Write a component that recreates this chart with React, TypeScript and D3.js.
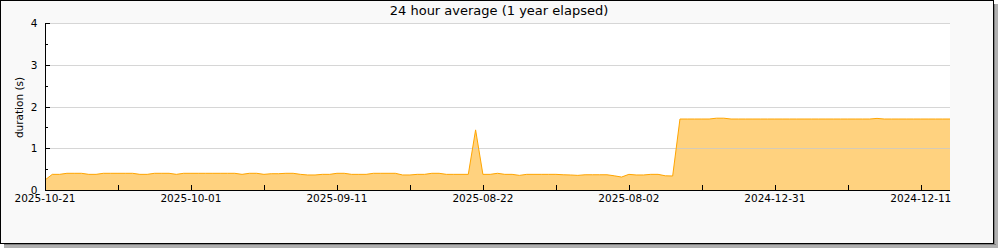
import React from "react";
import * as d3 from "d3";

const title = "24 hour average (1 year elapsed)";
const yLabel = "duration (s)";
const xTickIndex = [0, 20, 40, 60, 80, 100, 120];
const xTickLabels = ["2025-10-21", "2025-10-01", "2025-09-11", "2025-08-22", "2025-08-02", "2024-12-31", "2024-12-11"];
const xMinorIndex = [10, 30, 50, 70, 90, 110];
const yTicks = [0, 1, 2, 3, 4];
const yMinor = [0.5, 1.5, 2.5, 3.5];

const durations = [
  0.24, 0.375, 0.375, 0.4, 0.4, 0.4, 0.375, 0.375, 0.4, 0.4,
  0.4, 0.4, 0.4, 0.375, 0.375, 0.4, 0.4, 0.4, 0.375, 0.4,
  0.4, 0.4, 0.4, 0.4, 0.4, 0.4, 0.4, 0.375, 0.4, 0.4,
  0.375, 0.39, 0.39, 0.4, 0.4, 0.375, 0.36, 0.36, 0.375, 0.375,
  0.4, 0.4, 0.375, 0.375, 0.375, 0.4, 0.4, 0.4, 0.4, 0.36,
  0.36, 0.375, 0.375, 0.4, 0.4, 0.375, 0.375, 0.375, 0.375, 1.44,
  0.375, 0.375, 0.4, 0.375, 0.375, 0.35, 0.375, 0.375, 0.375, 0.375,
  0.375, 0.365, 0.36, 0.35, 0.365, 0.365, 0.365, 0.365, 0.34, 0.31,
  0.375, 0.36, 0.36, 0.375, 0.375, 0.34, 0.335, 1.7, 1.7, 1.7,
  1.7, 1.7, 1.72, 1.72, 1.7, 1.7, 1.7, 1.7, 1.7, 1.7,
  1.7, 1.7, 1.7, 1.7, 1.7, 1.7, 1.7, 1.7, 1.7, 1.7,
  1.7, 1.7, 1.7, 1.7, 1.715, 1.7, 1.7, 1.7, 1.7, 1.7,
  1.7, 1.7, 1.7, 1.7, 1.7,
];

export default function App() {
  const W = 1000, H = 250;
  const left = 45, right = 950, top = 23, bottom = 190;
  const x = d3.scaleLinear().domain([0, durations.length - 1]).range([left, right]);
  const y = d3.scaleLinear().domain([0, 4]).range([bottom, top]);
  const idx = durations.map((_, i) => i);
  const area = d3.area<number>().x((i) => x(i)).y0(bottom).y1((i) => y(durations[i]));
  const line = d3.line<number>().x((i) => x(i)).y((i) => y(durations[i]));
  const font = "DejaVu Sans, sans-serif";
  return (
    <svg width={W} height={H} style={{ position: "absolute", left: 0, top: 0 }} fontFamily={font}>
      {/* shadow */}
      <rect x={4} y={245} width={994} height={3} fill="#b0b0b0" />
      <rect x={995} y={4} width={3} height={244} fill="#b0b0b0" />
      <rect x={4} y={244} width={992} height={1} fill="#808080" />
      <rect x={994} y={4} width={1} height={241} fill="#808080" />
      <rect x={0.5} y={0.5} width={993} height={243} fill="#f9f9f9" stroke="#000" strokeWidth={1} />
      <rect x={993} y={1} width={1} height={243} fill="#000" />
      <rect x={1} y={243} width={993} height={1} fill="#000" />
      <rect x={left} y={top} width={right - left} height={bottom - top} fill="#fff" />
      <path d={area(idx) || ""} fill="#ffd27f" />
      {yTicks.filter((t) => t > 0).map((t) => (
        <line key={t} x1={left} x2={right} y1={Math.round(y(t)) + 0.5} y2={Math.round(y(t)) + 0.5} stroke="#c8c8c8" strokeOpacity={0.75} strokeWidth={1} />
      ))}
      <path d={line(idx) || ""} fill="none" stroke="#ffa500" strokeWidth={1} />
      <line x1={left + 0.5} x2={left + 0.5} y1={top} y2={bottom + 0.5} stroke="#000" />
      <line x1={left} x2={right} y1={bottom + 0.5} y2={bottom + 0.5} stroke="#000" />
      {yTicks.map((t) => (
        <g key={t}>
          <line x1={left} x2={left + 5} y1={Math.round(y(t)) + 0.5} y2={Math.round(y(t)) + 0.5} stroke="#000" />
          <text x={37.5} y={y(t) + 4} textAnchor="end" fontSize={10.5} fill="#000">{t}</text>
        </g>
      ))}
      {yMinor.map((t) => (
        <line key={t} x1={left} x2={left + 3} y1={Math.round(y(t)) + 0.5} y2={Math.round(y(t)) + 0.5} stroke="#000" />
      ))}
      {xTickIndex.map((t, i) => (
        <g key={t}>
          <line x1={Math.round(x(t)) + 0.5} x2={Math.round(x(t)) + 0.5} y1={bottom} y2={bottom - 5} stroke="#000" />
          <text x={x(t)} y={201.5} textAnchor="middle" fontSize={10.5} fill="#000">{xTickLabels[i]}</text>
        </g>
      ))}
      {xMinorIndex.map((t) => (
        <line key={t} x1={Math.round(x(t)) + 0.5} x2={Math.round(x(t)) + 0.5} y1={bottom} y2={bottom - 5} stroke="#000" />
      ))}
      <text x={499} y={15} textAnchor="middle" fontSize={13} fill="#000">{title}</text>
      <text transform={`translate(23, 107.5) rotate(-90)`} textAnchor="middle" fontSize={10.5} fill="#000">{yLabel}</text>
    </svg>
  );
}
